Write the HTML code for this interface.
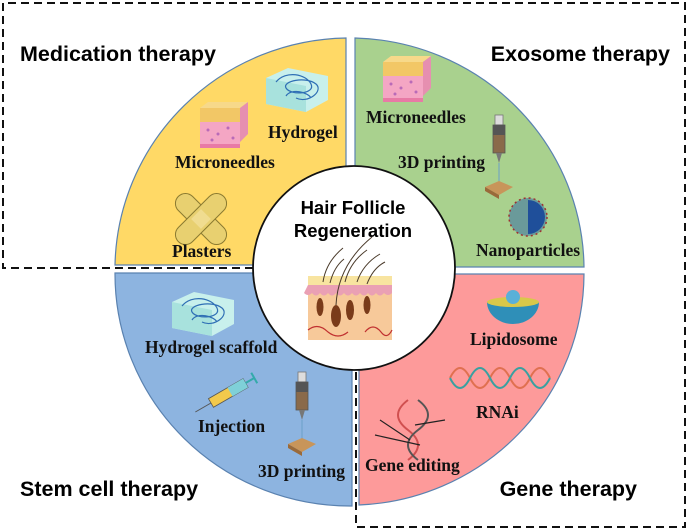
<!DOCTYPE html>
<html><head><meta charset="utf-8"><style>
html,body{margin:0;padding:0;background:#fff;}
svg{display:block;}
.h{font-family:"Liberation Sans",Arial,sans-serif;font-weight:bold;font-size:21.5px;fill:#000;}
.l{font-family:"Liberation Serif","Times New Roman",serif;font-weight:bold;font-size:17.5px;fill:#111;}
.c{font-family:"Liberation Sans",Arial,sans-serif;font-weight:bold;font-size:18.5px;fill:#000;}
</style></head><body>
<svg width="688" height="531" viewBox="0 0 688 531" xmlns="http://www.w3.org/2000/svg">
<defs>
<g id="mn">
 <rect x="0" y="10" width="40" height="30" fill="#f4a6c4"/>
 <rect x="0" y="0" width="40" height="14" fill="#f2c766"/>
 <path d="M0,0 l8,-6 h40 l-8,6z" fill="#f7d98a"/>
 <path d="M40,0 l8,-6 v32 l-8,8z" fill="#e68fb0"/>
 <g fill="#b96ab8"><circle cx="8" cy="22" r="1.5"/><circle cx="18" cy="26" r="1.5"/><circle cx="28" cy="20" r="1.5"/><circle cx="33" cy="30" r="1.5"/><circle cx="12" cy="32" r="1.5"/></g>
 <rect x="0" y="36" width="40" height="4" fill="#e87aa5"/>
</g>
<g id="hg">
 <path d="M0,10 l22,-10 l40,8 v24 l-22,12 l-40,-8z" fill="#c8f0ec"/>
 <path d="M0,10 l40,8 v26 l-40,-8z" fill="#a8e2dd"/>
 <path d="M10,14 c10,-12 30,-8 35,2 c5,10 -20,12 -25,4 c-4,-7 20,-12 30,-4 c8,7 -8,20 -20,14 M20,28 c5,-8 22,-4 25,2" stroke="#2f6fb5" stroke-width="1.2" fill="none"/>
</g>
<g id="pr">
 <rect x="-4" y="0" width="8" height="10" fill="#ddd" stroke="#777" stroke-width="0.8"/>
 <rect x="-6" y="10" width="12" height="28" fill="#8a6a4a" stroke="#555" stroke-width="0.8"/>
 <rect x="-6" y="10" width="12" height="10" fill="#555"/>
 <path d="M-3,38 h6 l-3,10z" fill="#777"/>
 <line x1="0" y1="48" x2="0" y2="68" stroke="#6aa0c8" stroke-width="1"/>
 <path d="M-14,72 l14,-6 l14,6 l-14,8z" fill="#c8955a"/>
 <path d="M-14,72 l14,8 v4 l-14,-8z" fill="#9a6a3a"/>
</g>
</defs>

<g stroke="#5a82b0" stroke-width="1.2">
<path d="M346,38 L346,265 L115,265 A235,232 0 0 1 346,38 Z" fill="#ffd966"/>
<path d="M355,38 L355,267 L584,267 A235,232 0 0 0 355,38 Z" fill="#a9d18e"/>
<path d="M352,273 L352,506 A235,232 0 0 1 115,273 Z" fill="#8db4e0"/>
<path d="M359,274 L584,274 A235,232 0 0 1 359,505 Z" fill="#fd9a9a"/>
</g>

<path d="M253,268 L3,268 L3,3 L685,3 L685,527 L356,527 L356,371" fill="none" stroke="#111" stroke-width="2" stroke-dasharray="8,5"/>

<ellipse cx="354" cy="268" rx="101" ry="102" fill="#fff" stroke="#111" stroke-width="1.8"/>
<text class="c" x="353" y="214" text-anchor="middle">Hair Follicle</text>
<text class="c" x="353" y="237" text-anchor="middle">Regeneration</text>
<rect x="308" y="285" width="84" height="55" fill="#f7c99a"/>
<rect x="308" y="276" width="84" height="10" fill="#f8e4a0"/>
<path d="M308,285 h84 v8 q-4,4 -8,0 q-4,5 -8,0 q-4,5 -8,0 q-4,5 -8,0 q-4,5 -8,0 q-4,5 -8,0 q-4,5 -8,0 q-4,5 -8,0 q-4,5 -8,0 q-4,5 -8,0 q-4,4 -8,0z" fill="#eaa0b4"/>
<g fill="#7a3b1a"><ellipse cx="320" cy="307" rx="3.5" ry="9"/><ellipse cx="336" cy="316" rx="5" ry="11"/><ellipse cx="350" cy="310" rx="4" ry="10"/><ellipse cx="367" cy="305" rx="3.5" ry="9"/></g>
<path d="M308,330 q10,-8 20,2 q10,8 20,0 M365,332 q8,-10 16,0 q6,8 11,-2" stroke="#c03030" stroke-width="1.2" fill="none"/>
<g stroke="#4a3a2a" stroke-width="1" fill="none">
<path d="M323,282 q3,-20 20,-34"/><path d="M336,305 q2,-40 36,-68"/><path d="M345,282 q5,-20 22,-32"/><path d="M357,282 q6,-18 23,-28"/><path d="M367,284 q6,-16 18,-22"/><path d="M330,283 q4,-16 14,-24"/>
</g>

<text class="h" x="20" y="61">Medication therapy</text>
<text class="h" x="670" y="61" text-anchor="end">Exosome therapy</text>
<text class="h" x="20" y="496">Stem cell therapy</text>
<text class="h" x="637" y="496" text-anchor="end">Gene therapy</text>

<use href="#mn" x="200" y="108"/>
<use href="#hg" x="266" y="68"/>
<g transform="translate(201,219) rotate(45)"><rect x="-32" y="-10" width="64" height="20" rx="10" fill="#e8d070" stroke="#8a7a30" stroke-width="1"/></g>
<g transform="translate(201,219) rotate(-45)"><rect x="-32" y="-10" width="64" height="20" rx="10" fill="#e8d070" stroke="#8a7a30" stroke-width="1"/><rect x="-7" y="-7" width="14" height="14" fill="#f0dc90"/></g>
<text class="l" x="268" y="138">Hydrogel</text>
<text class="l" x="175" y="168">Microneedles</text>
<text class="l" x="172" y="257">Plasters</text>

<use href="#mn" x="383" y="62"/>
<use href="#pr" x="499" y="115"/>
<circle cx="528" cy="217" r="19" fill="#6a9a9a" stroke="#a03030" stroke-width="1.5" stroke-dasharray="2,3"/>
<path d="M528,200 a17,17 0 0 1 0,34 z" fill="#1f4f9a"/>
<text class="l" x="366" y="123">Microneedles</text>
<text class="l" x="398" y="168">3D printing</text>
<text class="l" x="476" y="256">Nanoparticles</text>

<use href="#hg" x="172" y="292"/>
<g transform="translate(230,392) rotate(-30)"><rect x="-22" y="-5" width="40" height="10" fill="#f2c94c" stroke="#555" stroke-width="0.8"/><rect x="0" y="-5" width="18" height="10" fill="#7fd0d8"/><line x1="-22" y1="0" x2="-40" y2="0" stroke="#555"/><line x1="18" y1="0" x2="28" y2="0" stroke="#3aa" stroke-width="2"/><line x1="28" y1="-6" x2="28" y2="6" stroke="#3aa" stroke-width="2"/></g>
<use href="#pr" x="302" y="372"/>
<text class="l" x="145" y="353">Hydrogel scaffold</text>
<text class="l" x="198" y="432">Injection</text>
<text class="l" x="258" y="477">3D printing</text>

<path d="M487,302 a26,22 0 0 0 52,0 z" fill="#2f8fb8"/>
<ellipse cx="513" cy="302" rx="26" ry="5" fill="#d9c84a"/>
<circle cx="513" cy="297" r="7" fill="#5ab0d8"/>
<g stroke-width="2" fill="none">
<path d="M450,378 q10,-20 20,0 t20,0 t20,0 t20,0 t20,0" stroke="#e07050"/>
<path d="M450,378 q10,20 20,0 t20,0 t20,0 t20,0 t20,0" stroke="#3aa0a0"/>
<path d="M408,400 q-20,15 0,30 t0,30" stroke="#d05050"/>
<path d="M418,400 q20,15 0,30 t0,30" stroke="#555"/>
<path d="M380,420 l30,20 M375,435 l45,10 M415,425 l30,-5" stroke="#222" stroke-width="1.2"/>
</g>
<text class="l" x="470" y="345">Lipidosome</text>
<text class="l" x="476" y="418">RNAi</text>
<text class="l" x="365" y="471">Gene editing</text>
</svg>
</body></html>
